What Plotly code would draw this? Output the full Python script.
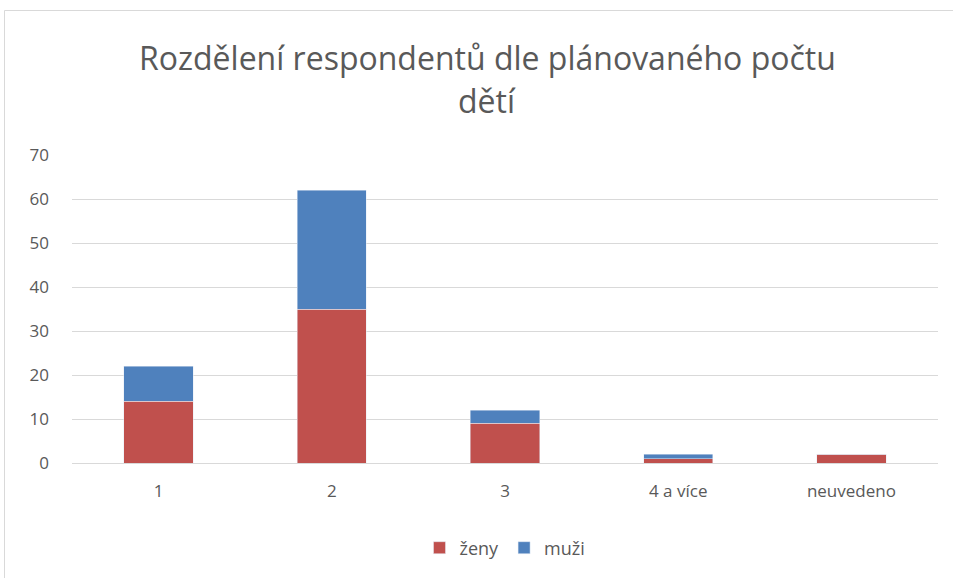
import plotly.graph_objects as go

categories = ["1", "2", "3", "4 a více", "neuvedeno"]
zeny = [14, 35, 9, 1, 2]
muzi = [8, 27, 3, 1, 0]
y_ticks = [0, 10, 20, 30, 40, 50, 60, 70]

W, H = 953, 578
# target plot area in page pixels
PX0, PX1, PY0, PY1 = 72, 938, 155, 463
L, R = PX0, W - PX1
T, B = PY0, H - PY1
pw, ph = PX1 - PX0, PY1 - PY0

def px_x(x):
    return (x - PX0) / pw

def px_y(y):
    return (PY1 - y) / ph

font = "Open Sans, Noto Sans, sans-serif"
grey = "#595959"

fig = go.Figure()
fig.add_trace(go.Bar(name="ženy", x=categories, y=zeny, marker_color="#C0504D"))
fig.add_trace(go.Bar(name="muži", x=categories, y=muzi, marker_color="#4F81BD"))

fig.update_layout(
    barmode="stack",
    bargap=0.6,
    width=W, height=H,
    margin=dict(l=L, r=R, t=T, b=B, pad=0),
    paper_bgcolor="white",
    plot_bgcolor="white",
    font=dict(family=font, color=grey, size=17),
    showlegend=True,
    legend=dict(orientation="h", x=0.5, xanchor="center", y=px_y(548), yanchor="middle",
                traceorder="normal", font=dict(size=18, color=grey)),
    xaxis=dict(showgrid=False, showline=False, ticks="", ticklabelstandoff=16,
               tickfont=dict(size=17, color=grey)),
    yaxis=dict(range=[0, 70], tickvals=y_ticks, showgrid=True, gridcolor="#D9D9D9", gridwidth=1,
               zeroline=True, zerolinecolor="#D9D9D9", zerolinewidth=1, showline=False,
               ticks="", ticklabelstandoff=22, tickfont=dict(size=17, color=grey)),
    annotations=[
        dict(text="Rozdělení respondentů dle plánovaného počtu", x=px_x(487), y=px_y(57),
             xref="paper", yref="paper", showarrow=False, xanchor="center", yanchor="middle",
             font=dict(size=32, color=grey, family=font)),
        dict(text="dětí", x=px_x(487), y=px_y(100),
             xref="paper", yref="paper", showarrow=False, xanchor="center", yanchor="middle",
             font=dict(size=32, color=grey, family=font)),
    ],
    shapes=[
        dict(type="rect", xref="paper", yref="paper", x0=px_x(4.5), y0=px_y(600), x1=px_x(980), y1=px_y(10.5),
             line=dict(color="#D9D9D9", width=1), fillcolor="rgba(0,0,0,0)", layer="below"),
    ],
)

fig.write_html("out.html", config={"displayModeBar": False},
               post_script="document.body.style.margin='0px';")
